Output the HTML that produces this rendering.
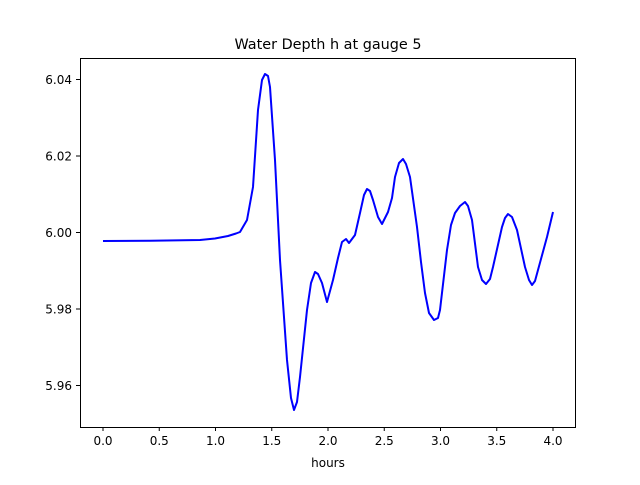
<!DOCTYPE html>
<html><head><meta charset="utf-8"><style>
html,body{margin:0;padding:0;background:#fff;}
svg text{font-family:"DejaVu Sans","Liberation Sans",sans-serif;fill:#000;}
</style></head><body>
<svg width="640" height="480" viewBox="0 0 640 480" xmlns="http://www.w3.org/2000/svg">
<rect width="640" height="480" fill="#fff"/>
<text x="328" y="49" font-size="14.4" text-anchor="middle">Water Depth h at gauge 5</text>
<path fill="none" stroke="#0000ff" stroke-width="2" stroke-linejoin="round" d="M103,241 L150,240.8 L200,240 L215,238.5 L228,236 L236,233.5 L240,232 L247,220 L253,187 L258,110 L262,80 L265,74 L268,76 L270,87 L275,160 L280,260 L287,360 L291,398 L294,410 L297,402 L300,377 L307,310 L311,283 L315,272 L318,274 L322,283 L327,302 L333,280 L338,258 L342,242 L346,239 L349,243 L355,235 L360,213 L364,195 L367,189 L370,191 L373,200 L378,217 L382,224 L388,212 L392,198 L395,177 L399,163 L403,159 L406,164 L410,177 L417,227 L421,262 L425,293 L429,313 L434,320 L438,318 L440,310 L447,250 L451,225 L455,213 L460,206 L465,202 L468,206 L472,220 L478,267 L482,280 L486,284 L490,279 L493,267 L502,227 L505,218 L508,214 L512,217 L517,230 L525,267 L529,280 L532,285 L535,281 L538,270 L547,237 L553,212"/>
<rect x="80.5" y="58.5" width="495" height="369" fill="none" stroke="#000" stroke-width="1"/>
<g stroke="#000" stroke-width="1">
<line x1="103" y1="427" x2="103" y2="431"/><line x1="159.25" y1="427" x2="159.25" y2="431"/><line x1="215.5" y1="427" x2="215.5" y2="431"/><line x1="271.75" y1="427" x2="271.75" y2="431"/><line x1="328" y1="427" x2="328" y2="431"/><line x1="384.25" y1="427" x2="384.25" y2="431"/><line x1="440.5" y1="427" x2="440.5" y2="431"/><line x1="496.75" y1="427" x2="496.75" y2="431"/><line x1="553" y1="427" x2="553" y2="431"/>
<line x1="76" y1="79.5" x2="80" y2="79.5"/><line x1="76" y1="156" x2="80" y2="156"/><line x1="76" y1="232.5" x2="80" y2="232.5"/><line x1="76" y1="309" x2="80" y2="309"/><line x1="76" y1="385.5" x2="80" y2="385.5"/>
</g>
<g font-size="12" text-anchor="middle">
<text x="103" y="445">0.0</text><text x="159.25" y="445">0.5</text><text x="215.5" y="445">1.0</text><text x="271.75" y="445">1.5</text><text x="328" y="445">2.0</text><text x="384.25" y="445">2.5</text><text x="440.5" y="445">3.0</text><text x="496.75" y="445">3.5</text><text x="553" y="445">4.0</text>
<text x="328" y="467">hours</text>
</g>
<g font-size="12" text-anchor="end">
<text x="72" y="84">6.04</text><text x="72" y="160.5">6.02</text><text x="72" y="237">6.00</text><text x="72" y="313.5">5.98</text><text x="72" y="390">5.96</text>
</g>
</svg>
</body></html>
